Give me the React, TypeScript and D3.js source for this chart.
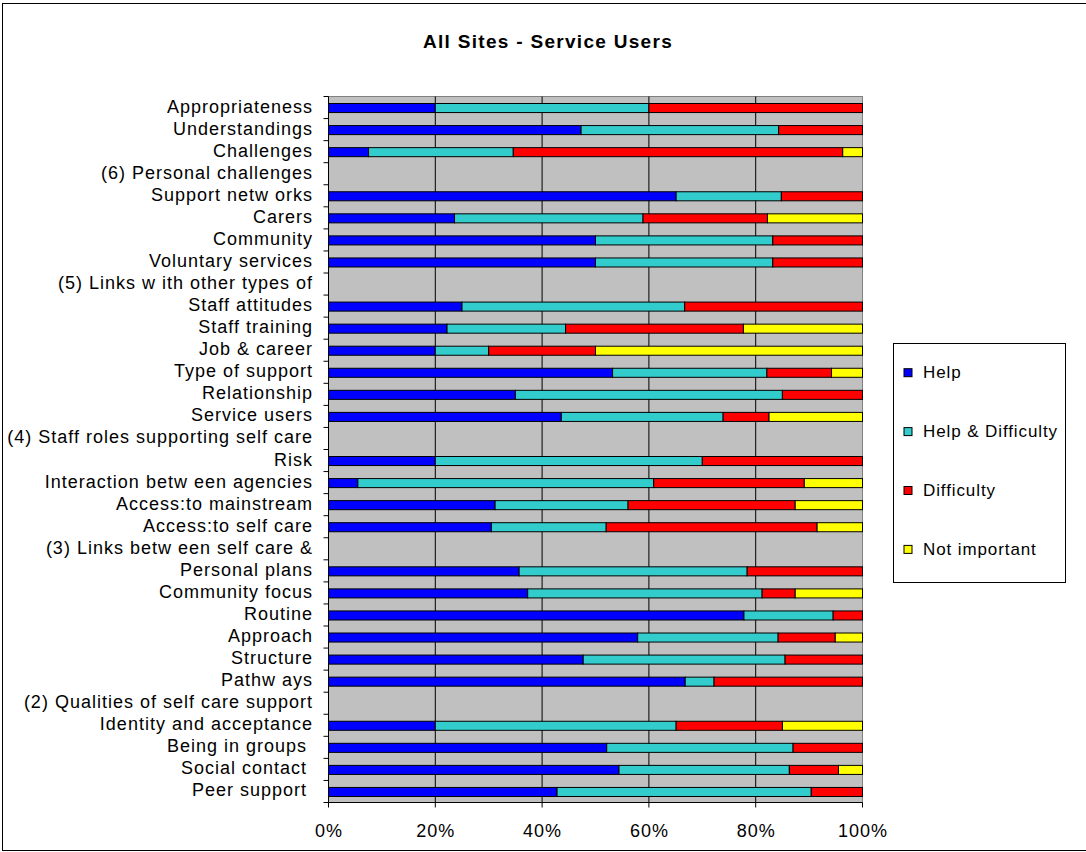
import React from "react";
import * as d3 from "d3";

const categories: string[] = [
  "Appropriateness",
  "Understandings",
  "Challenges",
  "(6) Personal challenges",
  "Support netw orks",
  "Carers",
  "Community",
  "Voluntary services",
  "(5) Links w ith other types of",
  "Staff attitudes",
  "Staff training",
  "Job & career",
  "Type of support",
  "Relationship",
  "Service users",
  "(4) Staff roles supporting self care",
  "Risk",
  "Interaction betw een agencies",
  "Access:to mainstream",
  "Access:to self care",
  "(3) Links betw een self care &",
  "Personal plans",
  "Community focus",
  "Routine",
  "Approach",
  "Structure",
  "Pathw ays",
  "(2) Qualities of self care support",
  "Identity and acceptance",
  "Being in groups\u00A0",
  "Social contact\u00A0",
  "Peer support\u00A0",
];

const seriesNames: string[] = ["Help", "Help & Difficulty", "Difficulty", "Not important"];

const help: (number | null)[] = [
  20, 47.3, 7.5, null, 65.1, 23.6, 50.0, 50.0, null, 25.0, 22.2, 20, 53.2, 35, 43.6, null,
  20, 5.5, 31.2, 30.5, null, 35.7, 37.3, 77.8, 57.9, 47.7, 66.8, null, 20, 52.1, 54.4, 42.8,
];
const helpDifficulty: (number | null)[] = [
  40, 37.0, 27.1, null, 19.7, 35.3, 33.2, 33.2, null, 41.7, 22.2, 10, 28.9, 50, 30.3, null,
  50, 55.4, 24.9, 21.5, null, 42.7, 43.9, 16.7, 26.3, 37.8, 5.4, null, 45.1, 34.9, 31.9, 47.6,
];
const difficulty: (number | null)[] = [
  40, 15.7, 61.7, null, 15.2, 23.3, 16.8, 16.8, null, 33.3, 33.3, 20, 12.1, 15, 8.6, null,
  30, 28.2, 31.3, 39.5, null, 21.6, 6.2, 5.5, 10.7, 14.5, 27.8, null, 19.9, 13.0, 9.2, 9.6,
];
const notImportant: (number | null)[] = [
  0, 0, 3.7, null, 0, 17.8, 0, 0, null, 0, 22.3, 50, 5.8, 0, 17.5, null,
  0, 10.9, 12.6, 8.5, null, 0, 12.6, 0, 5.1, 0, 0, null, 15.0, 0, 4.5, 0,
];

const xTicks: number[] = [0, 20, 40, 60, 80, 100];

const colors = ["#0000FF", "#33CCCC", "#FF0000", "#FFFF00"];
const FONT = "'Liberation Sans', Arial, sans-serif";

export default function App() {
  const W = 1086;
  const H = 852;
  const left = 328.5;
  const right = 862.5;
  const top = 96.5;
  const bottom = 802.5;

  const x = d3.scaleLinear().domain([0, 100]).range([left, right]);
  const y = d3.scaleBand<string>().domain(categories).range([top, bottom]).padding(0);
  const bw = y.bandwidth();
  const barH = bw * 0.41;

  const series = [help, helpDifficulty, difficulty, notImportant];
  const table = categories.map((c, i) => {
    const o: any = { cat: c };
    seriesNames.forEach((s, k) => (o[s] = series[k][i] ?? 0));
    return o;
  });
  const stacked = d3.stack<any>().keys(seriesNames)(table);

  const boundaries = d3.range(categories.length + 1).map((i) => top + i * bw);

  return (
    <svg
      width={W}
      height={H}
      style={{ position: "absolute", left: 0, top: 0, background: "#fff" }}
      fontFamily={FONT}
    >
      <rect x={2.5} y={3.5} width={W + 10} height={847} fill="#fff" stroke="#000" strokeWidth={1} />
      <text x={548} y={47.5} textAnchor="middle" fontSize={19} fontWeight="bold" letterSpacing={1.3}>
        All Sites - Service Users
      </text>

      <rect x={left} y={top} width={right - left} height={bottom - top} fill="#C0C0C0" stroke="#808080" strokeWidth={1} />
      {xTicks.slice(1, -1).map((t) => (
        <line key={t} x1={x(t)} x2={x(t)} y1={top} y2={bottom} stroke="#000" strokeWidth={1} />
      ))}

      {stacked.map((layer, k) =>
        layer.map((d, i) => {
          const v = d[1] - d[0];
          if (series[k][i] === null || v <= 0) return null;
          const cy = (y(categories[i]) as number) + bw / 2 + 0.5;
          return (
            <rect
              key={`${k}-${i}`}
              x={x(d[0])}
              y={cy - barH / 2}
              width={x(d[1]) - x(d[0])}
              height={barH}
              fill={colors[k]}
              stroke="#000"
              strokeWidth={1}
            />
          );
        })
      )}

      <line x1={left} x2={left} y1={top} y2={bottom} stroke="#000" />
      <line x1={left} x2={right} y1={bottom} y2={bottom} stroke="#000" />
      {boundaries.map((b, i) => (
        <line key={i} x1={left - 5} x2={left} y1={b} y2={b} stroke="#000" />
      ))}
      {xTicks.map((t) => (
        <g key={t}>
          <line x1={x(t)} x2={x(t)} y1={bottom} y2={bottom + 5} stroke="#000" />
          <text x={x(t) + 0.5} y={837} textAnchor="middle" fontSize={18} letterSpacing={1}>
            {t}%
          </text>
        </g>
      ))}

      {categories.map((c) => (
        <text
          key={c}
          x={313}
          y={(y(c) as number) + bw / 2 + 5}
          textAnchor="end"
          fontSize={18}
          letterSpacing={1}
          style={{ whiteSpace: "pre" }}
        >
          {c}
        </text>
      ))}

      <rect x={893.5} y={343.5} width={172} height={239} fill="#fff" stroke="#000" strokeWidth={1} />
      {seriesNames.map((s, k) => {
        const cy = 372.7 + k * 58.9;
        return (
          <g key={s}>
            <rect x={904} y={cy - 4} width={8} height={8} fill={colors[k]} stroke="#000" strokeWidth={1} />
            <text x={923} y={cy + 5.6} fontSize={17} letterSpacing={0.9}>
              {s}
            </text>
          </g>
        );
      })}
    </svg>
  );
}
